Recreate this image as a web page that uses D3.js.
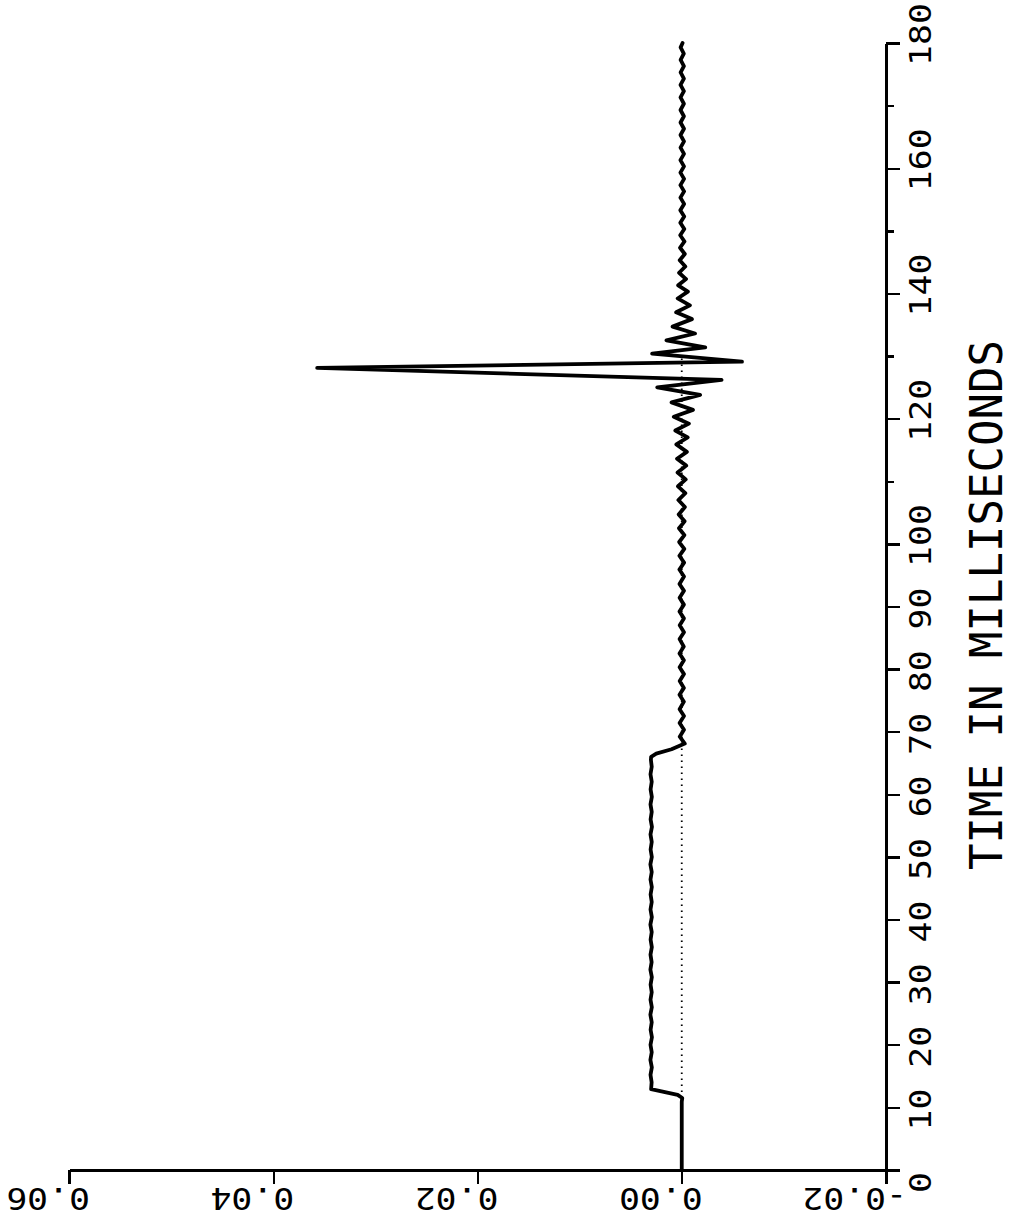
<!DOCTYPE html>
<html>
<head>
<meta charset="utf-8">
<script src="https://cdn.jsdelivr.net/npm/d3@7"></script>
<style>
  body { margin: 0; background: #fff; }
  .axis path, .axis line { stroke: #000; stroke-width: 2.4; shape-rendering: crispEdges; }
  .lbl { font-family: "DejaVu Sans Mono", monospace; fill: #000; }
</style>
</head>
<body>
<script>
// time in ms, value
var quiet = [[0, 0], [5, 0], [10.9, 0], [11.5, -0.00005], [12.0, 0.0004], [12.9, 0.0030]];

var plateau = [
  [14.0, 0.00295], [15.2, 0.00306], [16.4, 0.00293], [17.6, 0.00307], [18.8, 0.00294],
  [20.0, 0.00306], [21.2, 0.00292], [22.4, 0.00305], [23.6, 0.00294], [24.8, 0.00307],
  [26.0, 0.00293], [27.2, 0.00306], [28.4, 0.00294], [29.6, 0.00305], [30.8, 0.00293],
  [32.0, 0.00307], [33.2, 0.00295], [34.4, 0.00306], [35.6, 0.00293], [36.8, 0.00305],
  [38.0, 0.00294], [39.2, 0.00307], [40.4, 0.00293], [41.6, 0.00306], [42.8, 0.00294],
  [44.0, 0.00305], [45.2, 0.00293], [46.4, 0.00306], [47.6, 0.00294], [48.8, 0.00307],
  [50.0, 0.00293], [51.2, 0.00305], [52.4, 0.00294], [53.6, 0.00306], [54.8, 0.00292],
  [56.0, 0.00305], [57.2, 0.00294], [58.4, 0.00306], [59.6, 0.00293], [60.8, 0.00305],
  [62.0, 0.00294], [63.2, 0.00306], [64.4, 0.00294], [65.5, 0.00302]
];

var release = [[66.0, 0.0030], [66.5, 0.0025], [67.2, 0.0010], [68.1, -0.0003]];

var ringing = [
  [69.2, 0.00020], [70.3, -0.00022], [71.4, 0.00021], [72.5, -0.00022], [73.6, 0.00021],
  [74.8, -0.00021], [75.9, 0.00022], [77.0, -0.00021], [78.1, 0.00020], [79.2, -0.00022],
  [80.3, 0.00021], [81.4, -0.00021], [82.5, 0.00022], [83.6, -0.00020], [84.8, 0.00021],
  [85.9, -0.00022], [87.0, 0.00020], [88.1, -0.00021], [89.2, 0.00022], [90.3, -0.00021],
  [91.4, 0.00021], [92.5, -0.00022], [93.6, 0.00022], [94.8, -0.00022], [95.9, 0.00023],
  [97.0, -0.00023], [98.1, 0.00023], [99.2, -0.00025], [100.3, 0.00025], [101.4, -0.00026],
  [102.5, 0.00027], [103.6, -0.00028], [104.7, 0.00030], [105.9, -0.00031], [107.0, 0.00033],
  [108.1, -0.00035], [109.2, 0.00037], [110.3, -0.00039], [111.4, 0.00041], [112.5, -0.00044],
  [113.6, 0.00046], [114.7, -0.00050], [115.9, 0.00053], [117.0, -0.00058], [118.1, 0.00063],
  [119.2, -0.00070], [120.3, 0.00078]
];

var burst = [
  [121.4, -0.00110], [122.6, 0.00100], [123.8, -0.00180], [125.0, 0.00240], [126.2, -0.00390],
  [128.1, 0.03570], [129.1, -0.00590], [130.4, 0.00290], [131.4, -0.00230], [132.5, 0.00150],
  [133.6, -0.00130], [134.7, 0.00090], [135.9, -0.00100], [137.0, 0.00055], [138.1, -0.00080],
  [139.2, 0.00040], [140.3, -0.00060]
];

var tail = [
  [141.3, 0.00035], [142.3, -0.00042], [143.3, 0.00026], [144.3, -0.00035], [145.3, 0.00020],
  [146.3, -0.00030], [147.3, 0.00017], [148.3, -0.00027], [149.3, 0.00015], [150.3, -0.00025],
  [151.3, 0.00014], [152.3, -0.00024], [153.3, 0.00014], [154.3, -0.00023], [155.3, 0.00013],
  [156.3, -0.00023], [157.3, 0.00013], [158.3, -0.00023], [159.3, 0.00013], [160.3, -0.00022],
  [161.3, 0.00013], [162.3, -0.00022], [163.3, 0.00012], [164.3, -0.00022], [165.3, 0.00012],
  [166.3, -0.00022], [167.3, 0.00012], [168.3, -0.00021], [169.3, 0.00012], [170.3, -0.00021],
  [171.3, 0.00012], [172.3, -0.00021], [173.3, 0.00012], [174.3, -0.00021], [175.3, 0.00011],
  [176.3, -0.00021], [177.3, 0.00011], [178.3, -0.00020], [179.3, 0.00011], [180.0, -0.00008]
];

var timeMajor = [0, 10, 20, 30, 40, 50, 60, 70, 80, 90, 100, 120, 140, 160, 180];
var timeMinor = [110, 130, 150, 170];
var timeLabels = ["0", "10", "20", "30", "40", "50", "60", "70", "80", "90", "100", "120", "140", "160", "180"];
var valueTicks = [-0.02, 0, 0.02, 0.04, 0.06];
var valueLabels = ["-0.02", "0.00", "0.02", "0.04", "0.06"];
var title = "TIME IN MILLISECONDS";

var width = 1013;
var height = 1224;

var svg = d3.select("body").append("svg")
    .attr("width", width)
    .attr("height", height);

svg.append("rect")
    .attr("width", width)
    .attr("height", height)
    .attr("fill", "#fff");

// chart is drawn turned on its side: time runs up, value runs right-to-left
var t = d3.scaleLinear().domain([0, 180]).range([1170, 43]);
var v = d3.scaleLinear().domain([-0.02, 0.06]).range([886, 69]);

// zero line (dotted)
svg.append("line")
    .attr("x1", v(0)).attr("x2", v(0))
    .attr("y1", t(0)).attr("y2", t(130))
    .attr("stroke", "#000")
    .attr("stroke-width", 1.8)
    .attr("stroke-dasharray", "1.6,4.4");

// value axis along the bottom
svg.append("g")
    .attr("class", "axis")
    .attr("transform", "translate(0," + t(0) + ")")
    .call(d3.axisBottom(v).tickValues(valueTicks).tickSize(14).tickSizeOuter(0).tickFormat(""));

// time axis on the right
svg.append("g")
    .attr("class", "axis")
    .attr("transform", "translate(" + v(-0.02) + ",0)")
    .call(d3.axisRight(t).tickValues(timeMajor).tickSize(14).tickSizeOuter(0).tickFormat(""));
svg.append("g")
    .attr("class", "axis")
    .attr("transform", "translate(" + v(-0.02) + ",0)")
    .call(d3.axisRight(t).tickValues(timeMinor).tickSize(8).tickSizeOuter(0).tickFormat(""))
    .select(".domain").remove();

var pitch = 1.16;

// time tick labels, reading upward
svg.selectAll(".tlabel").data(timeMajor)
  .enter().append("text")
    .attr("class", "lbl tlabel")
    .attr("font-size", 30)
    .attr("transform", function (d) {
        return "translate(931," + (t(d) + 23) + ") rotate(-90) scale(" + pitch + ",1)";
    })
    .text(function (d, i) { return timeLabels[i]; });

// value tick labels, upside down
svg.selectAll(".vlabel").data(valueTicks)
  .enter().append("text")
    .attr("class", "lbl vlabel")
    .attr("font-size", 30)
    .attr("transform", function (d) {
        return "translate(" + (v(d) + 21) + ",1188) rotate(180) scale(" + pitch + ",1)";
    })
    .text(function (d, i) { return valueLabels[i]; });

svg.append("text")
    .attr("class", "lbl")
    .attr("font-size", 44)
    .attr("text-anchor", "middle")
    .attr("transform", "translate(1002,605) rotate(-90)")
    .text(title);

var data = quiet.concat(plateau, release, ringing, burst, tail);

var line = d3.line()
    .x(function (d) { return v(d[1]); })
    .y(function (d) { return t(d[0]); });

svg.append("path")
    .datum(data)
    .attr("d", line)
    .attr("fill", "none")
    .attr("stroke", "#000")
    .attr("stroke-width", 3.8)
    .attr("stroke-linejoin", "round")
    .attr("stroke-linecap", "round");
</script>
</body>
</html>
